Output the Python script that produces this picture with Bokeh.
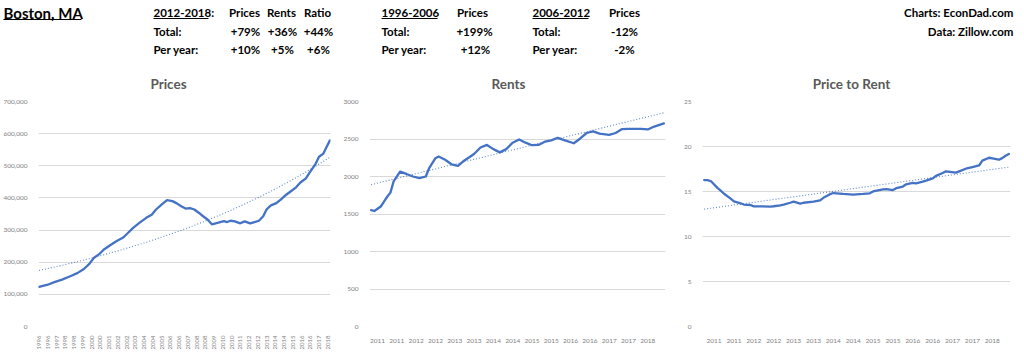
import numpy as np
from bokeh.plotting import figure
from bokeh.models import Range1d, FixedTicker
from bokeh.layouts import column, row
from bokeh.embed import file_html
from bokeh.resources import INLINE
from bokeh.core.properties import value

FONT = "Lato"
BLUE = "#4472C4"

# ---------------- data ----------------
price_start = "1996-04"
price_months = ["1996-04", "1996-12", "1997-06", "1998-01", "1998-09", "1999-03", "1999-09", "2000-02",
                "2000-06", "2000-11", "2001-03", "2001-09", "2002-03", "2002-09", "2003-01", "2003-06",
                "2003-12", "2004-06", "2004-11", "2005-03", "2005-08", "2006-01", "2006-06", "2006-10",
                "2007-02", "2007-06", "2007-10", "2008-02", "2008-06", "2008-10", "2009-02", "2009-06",
                "2009-12", "2010-05", "2010-08", "2010-11", "2011-03", "2011-08", "2011-12", "2012-05",
                "2012-09", "2013-01", "2013-05", "2013-08", "2013-12", "2014-05", "2014-09", "2015-02",
                "2015-06", "2015-11", "2016-03", "2016-08", "2016-12", "2017-05", "2017-08", "2017-12",
                "2018-03", "2018-06"]
price_values = [123000, 130000, 138000, 146000, 157000, 166000, 179000, 195000,
                213000, 225000, 239000, 253000, 266000, 277000, 290000, 307000,
                323000, 338000, 348000, 364000, 379000, 393000, 390000, 383000,
                374000, 367000, 368000, 364000, 354000, 343000, 333000, 318000,
                323000, 328000, 325000, 329000, 327000, 321000, 327000, 321000,
                325000, 329000, 343000, 364000, 377000, 384000, 395000, 410000,
                420000, 433000, 448000, 461000, 482000, 507000, 528000, 538000,
                559000, 579000]
price_end = "2018-06"
price_tick_labels = ["1996", "1996", "1997", "1998", "1998", "1999", "2000", "2000", "2001", "2002",
                     "2002", "2003", "2004", "2004", "2005", "2006", "2006", "2007", "2008", "2008",
                     "2009", "2010", "2010", "2011", "2012", "2012", "2013", "2014", "2014", "2015",
                     "2016", "2016", "2017", "2018"]
price_y_ticks = [0, 100000, 200000, 300000, 400000, 500000, 600000, 700000]

rent_start = "2010-11"
rent_months = ["2010-11", "2010-12", "2011-02", "2011-03", "2011-04", "2011-05", "2011-06", "2011-08",
               "2011-10", "2011-12", "2012-02", "2012-04", "2012-05", "2012-07", "2012-08", "2012-10",
               "2012-12", "2013-02", "2013-04", "2013-07", "2013-09", "2013-11", "2014-01", "2014-03",
               "2014-05", "2014-07", "2014-09", "2014-11", "2015-01", "2015-03", "2015-05", "2015-07",
               "2015-09", "2015-11", "2016-02", "2016-04", "2016-06", "2016-08", "2016-10", "2017-01",
               "2017-03", "2017-05", "2017-07", "2017-09", "2017-11", "2018-01", "2018-03", "2018-06"]
rent_values = [1552, 1540, 1600, 1665, 1730, 1785, 1935, 2064,
               2034, 2000, 1978, 2000, 2107, 2244, 2266, 2223,
               2163, 2141, 2214, 2300, 2386, 2421, 2365, 2322,
               2365, 2451, 2494, 2451, 2417, 2421, 2464, 2481,
               2516, 2486, 2443, 2507, 2580, 2602, 2572, 2554,
               2580, 2632, 2636, 2636, 2636, 2627, 2666, 2709]
rent_end = "2018-06"
rent_trend = [1891, 2850]          # dotted linear trend, first and last month
rent_tick_months = ["2011-01", "2011-07", "2012-01", "2012-07", "2013-01", "2013-07", "2014-01", "2014-07",
                    "2015-01", "2015-07", "2016-01", "2016-07", "2017-01", "2017-07", "2018-01"]
rent_tick_labels = ["2011", "2011", "2012", "2012", "2013", "2013", "2014", "2014",
                    "2015", "2015", "2016", "2016", "2017", "2017", "2018"]
rent_y_ticks = [0, 500, 1000, 1500, 2000, 2500, 3000]

ratio_start = "2010-10"
ratio_months = ["2010-10", "2010-11", "2010-12", "2011-02", "2011-03", "2011-04", "2011-06", "2011-07",
                "2011-09", "2011-10", "2011-12", "2012-01", "2012-06", "2012-07", "2012-09", "2012-10",
                "2012-12", "2013-01", "2013-03", "2013-04", "2013-07", "2013-09", "2013-10", "2013-12",
                "2014-01", "2014-04", "2014-07", "2014-10", "2014-12", "2015-01", "2015-04", "2015-05",
                "2015-07", "2015-08", "2015-10", "2015-11", "2016-01", "2016-02", "2016-04", "2016-05",
                "2016-07", "2016-08", "2016-10", "2016-11", "2017-02", "2017-03", "2017-05", "2017-07",
                "2017-09", "2017-10", "2017-12", "2018-01", "2018-03", "2018-04", "2018-05", "2018-06"]
ratio_values = [16.27, 16.27, 16.16, 15.40, 15.09, 14.75, 14.20, 13.90,
                13.69, 13.55, 13.50, 13.35, 13.33, 13.36, 13.47, 13.55,
                13.75, 13.87, 13.65, 13.75, 13.87, 14.01, 14.30, 14.70,
                14.83, 14.73, 14.66, 14.73, 14.80, 15.01, 15.23, 15.27,
                15.16, 15.37, 15.55, 15.80, 15.95, 15.91, 16.09, 16.20,
                16.45, 16.74, 17.06, 17.24, 17.10, 17.24, 17.53, 17.71,
                17.89, 18.43, 18.75, 18.68, 18.53, 18.71, 18.97, 19.18]
ratio_end = "2018-06"
ratio_trend = [13.04, 17.71]       # dotted linear trend, first and last month
ratio_tick_months = ["2011-01", "2011-07", "2012-01", "2012-07", "2013-01", "2013-07", "2014-01", "2014-07",
                     "2015-01", "2015-07", "2016-01", "2016-07", "2017-01", "2017-07", "2018-01"]
ratio_tick_labels = ["2011", "2011", "2012", "2012", "2013", "2013", "2014", "2014",
                     "2015", "2015", "2016", "2016", "2017", "2017", "2018"]
ratio_y_ticks = [0, 5, 10, 15, 20, 25]

# header table
hdr_rows = ["2012-2018:", "Total:", "Per year:"]
p1218_cols = ["Prices", "Rents", "Ratio"]
p1218_total = ["+79%", "+36%", "+44%"]
p1218_year = ["+10%", "+5%", "+6%"]
p9606_total = ["+199%"]
p9606_year = ["+12%"]
p0612_total = ["-12%"]
p0612_year = ["-2%"]


def midx(s, start):
    y, m = map(int, s.split("-"))
    y0, m0 = map(int, start.split("-"))
    return (y - y0) * 12 + (m - m0)


# ---------------- header ----------------
H = 96
hdr = figure(width=1024, height=H, output_backend="svg", toolbar_location=None,
             x_range=Range1d(0, 1024), y_range=Range1d(H, 0),
             min_border=0, min_border_left=0, min_border_right=0, min_border_top=0, min_border_bottom=0)
hdr.axis.visible = False
hdr.grid.visible = False
hdr.outline_line_color = None
hdr.background_fill_color = "white"


def htext(x, y, t, align="left", size="11.5px", color="black", style="bold"):
    hdr.text(x=[x], y=[y], text=[t], text_font=value(FONT), text_font_size=size,
             text_font_style=style, text_color=color, text_align=align, text_baseline="middle")


htext(3, 12, "Boston, MA", size="15px")
hdr.segment(x0=[3], y0=[19], x1=[81], y1=[19], line_color="black", line_width=1.2)

r1, r2, r3 = 12, 31, 49
htext(153, r1, hdr_rows[0])
hdr.segment(x0=[153], y0=[18], x1=[208], y1=[18], line_color="black", line_width=1)
htext(153, r2, hdr_rows[1])
htext(153, r3, hdr_rows[2])
for cx, c, tt, yy in zip([244, 281, 317], p1218_cols, p1218_total, p1218_year):
    htext(cx, r1, c, align="center")
    htext(cx + 1, r2, tt, align="center")
    htext(cx + 1, r3, yy, align="center")

htext(381, r1, "1996-2006")
hdr.segment(x0=[381], y0=[18], x1=[437], y1=[18], line_color="black", line_width=1)
htext(381, r2, "Total:")
htext(381, r3, "Per year:")
htext(472, r1, "Prices", align="center")
htext(474, r2, p9606_total[0], align="center")
htext(475, r3, p9606_year[0], align="center")

htext(532, r1, "2006-2012")
hdr.segment(x0=[532], y0=[18], x1=[588], y1=[18], line_color="black", line_width=1)
htext(532, r2, "Total:")
htext(532, r3, "Per year:")
htext(624, r1, "Prices", align="center")
htext(624, r2, p0612_total[0], align="center")
htext(624, r3, p0612_year[0], align="center")

htext(1013, r1, "Charts: EconDad.com", align="right")
htext(1013, r2, "Data: Zillow.com", align="right")

for cx, t in zip([168, 508, 851], ["Prices", "Rents", "Price to Rent"]):
    htext(cx, 83, t, align="center", size="13.5px", color="#595959", style="bold")


# ---------------- charts ----------------
def chart(width, left, right, bottom, start, end, months, vals, tick_pos, tick_labels,
          y_ticks, y_labels, y_max, rotate, trend):
    n = midx(end, start)
    p = figure(width=width, height=352 - H, output_backend="svg", toolbar_location=None,
               x_range=Range1d(-0.5, n + 0.5), y_range=Range1d(0, y_max),
               min_border_left=left, min_border_right=right, min_border_top=5,
               min_border_bottom=bottom)
    p.outline_line_color = None
    p.xgrid.grid_line_color = None
    p.ygrid.grid_line_color = "#d9d9d9"
    p.ygrid.grid_line_width = 1
    p.yaxis.ticker = FixedTicker(ticks=y_ticks)
    p.yaxis.major_label_overrides = {t: l for t, l in zip(y_ticks, y_labels)}
    p.xaxis.ticker = FixedTicker(ticks=tick_pos)
    p.xaxis.major_label_overrides = {t: l for t, l in zip(tick_pos, tick_labels)}
    for ax in (p.xaxis, p.yaxis):
        ax.axis_line_color = None
        ax.major_tick_line_color = None
        ax.minor_tick_line_color = None
        ax.major_label_text_color = "#7f7f7f"
        ax.major_label_text_font = FONT
    p.yaxis.major_label_text_font_size = "6.5px"
    p.yaxis.major_label_standoff = 5
    if rotate:
        p.xaxis.major_label_orientation = np.pi / 2
        p.xaxis.major_label_text_font_size = "6px"
        p.xaxis.major_label_standoff = 3
    else:
        p.xaxis.major_label_text_font_size = "6.5px"
        p.xaxis.major_label_standoff = 6

    x = np.array([midx(m, start) for m in months], dtype=float)
    y = np.array(vals, dtype=float)
    if trend is None:
        # exponential trendline fitted to the series (as in the source chart)
        xt = np.linspace(0, n, 200)
        b, a = np.polyfit(x, np.log(y), 1)
        yt = np.exp(a + b * xt)
    else:
        xt = [0, n]
        yt = trend
    p.line(xt, yt, line_color=BLUE, line_alpha=0.85, line_width=1.1, line_dash="1 2")
    p.line(x, y, line_color=BLUE, line_width=2.3, line_join="round", line_cap="round")
    return p


p1 = chart(340, 33, 10, 24, price_start, price_end, price_months, price_values,
           list(range(0, 8 * len(price_tick_labels), 8)), price_tick_labels,
           price_y_ticks, [f"{v:,}" for v in price_y_ticks], 700000, True, None)
p2 = chart(340, 23, 15, 19, rent_start, rent_end, rent_months, rent_values,
           [midx(m, rent_start) for m in rent_tick_months], rent_tick_labels,
           rent_y_ticks, [str(v) for v in rent_y_ticks], 3000, False, rent_trend)
p3 = chart(344, 17, 14, 19, ratio_start, ratio_end, ratio_months, ratio_values,
           [midx(m, ratio_start) for m in ratio_tick_months], ratio_tick_labels,
           ratio_y_ticks, [str(v) for v in ratio_y_ticks], 25, False, ratio_trend)

layout = column(hdr, row(p1, p2, p3, spacing=0), spacing=0)
open("out.html", "w").write(file_html(layout, INLINE))
